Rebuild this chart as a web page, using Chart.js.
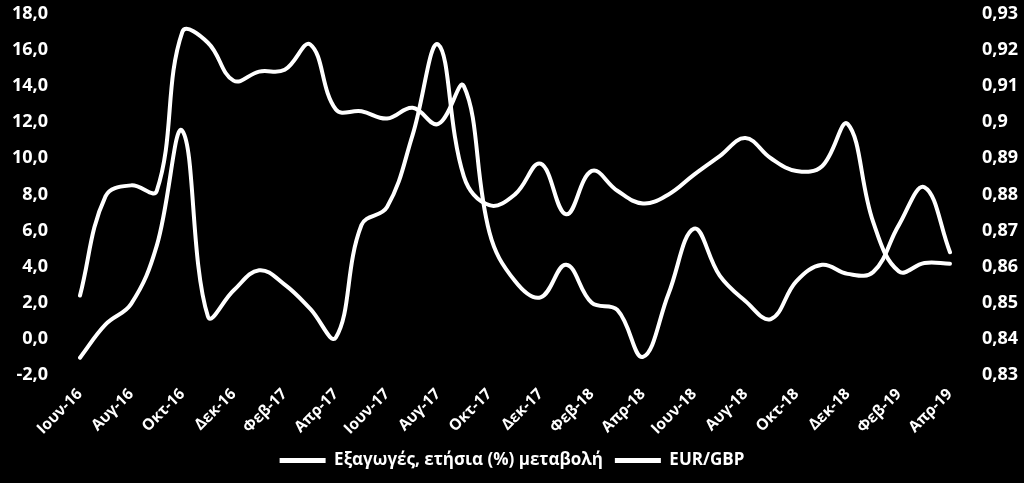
<!DOCTYPE html>
<html>
<head>
<meta charset="utf-8">
<script src="https://cdn.jsdelivr.net/npm/chart.js@4"></script>
<style>
  html, body { margin: 0; padding: 0; background: #000; }
  #wrap { width: 1024px; height: 483px; position: relative; }
</style>
</head>
<body>
<div id="wrap"><canvas id="chart"></canvas></div>
<script>
const months = ["Ιουν-16", "Ιουλ-16", "Αυγ-16", "Σεπ-16", "Οκτ-16", "Νοε-16", "Δεκ-16",
  "Ιαν-17", "Φεβ-17", "Μαρ-17", "Απρ-17", "Μαϊ-17", "Ιουν-17", "Ιουλ-17", "Αυγ-17",
  "Σεπ-17", "Οκτ-17", "Νοε-17", "Δεκ-17", "Ιαν-18", "Φεβ-18", "Μαρ-18", "Απρ-18",
  "Μαϊ-18", "Ιουν-18", "Ιουλ-18", "Αυγ-18", "Σεπ-18", "Οκτ-18", "Νοε-18", "Δεκ-18",
  "Ιαν-19", "Φεβ-19", "Μαρ-19", "Απρ-19"];

// Εξαγωγές, ετήσια (%) μεταβολή - αριστερός άξονας
const exportsYoY = [2.4, 7.9, 8.5, 8.2, 17.0, 16.4, 14.3, 14.8, 14.9, 16.3, 12.7, 12.6,
  12.2, 12.8, 11.9, 14.0, 5.9, 3.2, 2.3, 4.1, 2.0, 1.6, -1.0, 2.5, 6.1, 3.5, 2.1, 1.1,
  3.2, 4.1, 3.6, 3.7, 6.3, 8.4, 4.8];

// EUR/GBP - δεξιός άξονας
const eurGbp = [0.8348, 0.8440, 0.8497, 0.8658, 0.8976, 0.8462, 0.8534, 0.8590, 0.8550,
  0.8483, 0.8404, 0.8715, 0.8765, 0.8965, 0.9215, 0.8850, 0.8770, 0.8800, 0.8885,
  0.8745, 0.8865, 0.8810, 0.8775, 0.8800, 0.8855, 0.8906, 0.8956, 0.8900, 0.8865,
  0.8878, 0.8995, 0.8723, 0.8587, 0.8610, 0.8608];

const leftTicks = { min: -2, max: 18, step: 2 };
const rightTicks = { min: 0.83, max: 0.93, step: 0.01 };

const fontFamily = "'Open Sans', 'Noto Sans', sans-serif";
const tickFont = { family: fontFamily, size: 18, weight: "bold" };

const ctx = document.getElementById("chart").getContext("2d");

new Chart(ctx, {
  type: "line",
  data: {
    labels: months,
    datasets: [
      {
        label: "Εξαγωγές, ετήσια (%) μεταβολή",
        data: exportsYoY,
        yAxisID: "y",
        borderColor: "#ffffff",
        backgroundColor: "#ffffff",
        borderWidth: 4,
        pointRadius: 0,
        tension: 0.4,
        borderCapStyle: "round",
      },
      {
        label: "EUR/GBP",
        data: eurGbp,
        yAxisID: "y1",
        borderColor: "#ffffff",
        backgroundColor: "#ffffff",
        borderWidth: 4,
        pointRadius: 0,
        tension: 0.4,
        borderCapStyle: "round",
      },
    ],
  },
  options: {
    responsive: true,
    maintainAspectRatio: false,
    animation: false,
    layout: { padding: { top: 2, right: 0, bottom: 4, left: 0 } },
    plugins: {
      tooltip: { enabled: false },
      legend: {
        position: "bottom",
        labels: {
          color: "#ffffff",
          font: { family: fontFamily, size: 17, weight: "bold" },
          boxWidth: 46,
          boxHeight: 5,
          padding: 12,
          generateLabels(chart) {
            return Chart.defaults.plugins.legend.labels.generateLabels(chart).map((l) => {
              l.lineWidth = 0;
              l.fillStyle = "#ffffff";
              return l;
            });
          },
        },
      },
    },
    scales: {
      x: {
        offset: false,
        grid: { display: false, drawTicks: true, tickLength: 10 },
        border: { display: false },
        ticks: {
          color: "#ffffff",
          font: { family: fontFamily, size: 15.5, weight: "bold" },
          autoSkip: false,
          minRotation: 45,
          maxRotation: 45,
          padding: 0,
          callback: (v, i) => (i % 2 === 0 ? months[i] : ""),
        },
        afterFit: (scale) => { scale.height = 65; },
      },
      y: {
        position: "left",
        min: leftTicks.min,
        max: leftTicks.max,
        grid: { display: false, drawTicks: true, tickLength: 29 },
        border: { display: false },
        ticks: {
          stepSize: leftTicks.step,
          color: "#ffffff",
          font: tickFont,
          padding: 3,
          callback: (v) => v.toFixed(1).replace(".", ","),
        },
        afterFit: (scale) => { scale.width = 80; },
      },
      y1: {
        position: "right",
        min: rightTicks.min,
        max: rightTicks.max,
        grid: { display: false, drawTicks: true, tickLength: 29 },
        border: { display: false },
        ticks: {
          stepSize: rightTicks.step,
          color: "#ffffff",
          font: tickFont,
          padding: 3,
          callback: (v) => String(Math.round(v * 100) / 100).replace(".", ","),
        },
        afterFit: (scale) => { scale.width = 74; },
      },
    },
  },
});
</script>
</body>
</html>
